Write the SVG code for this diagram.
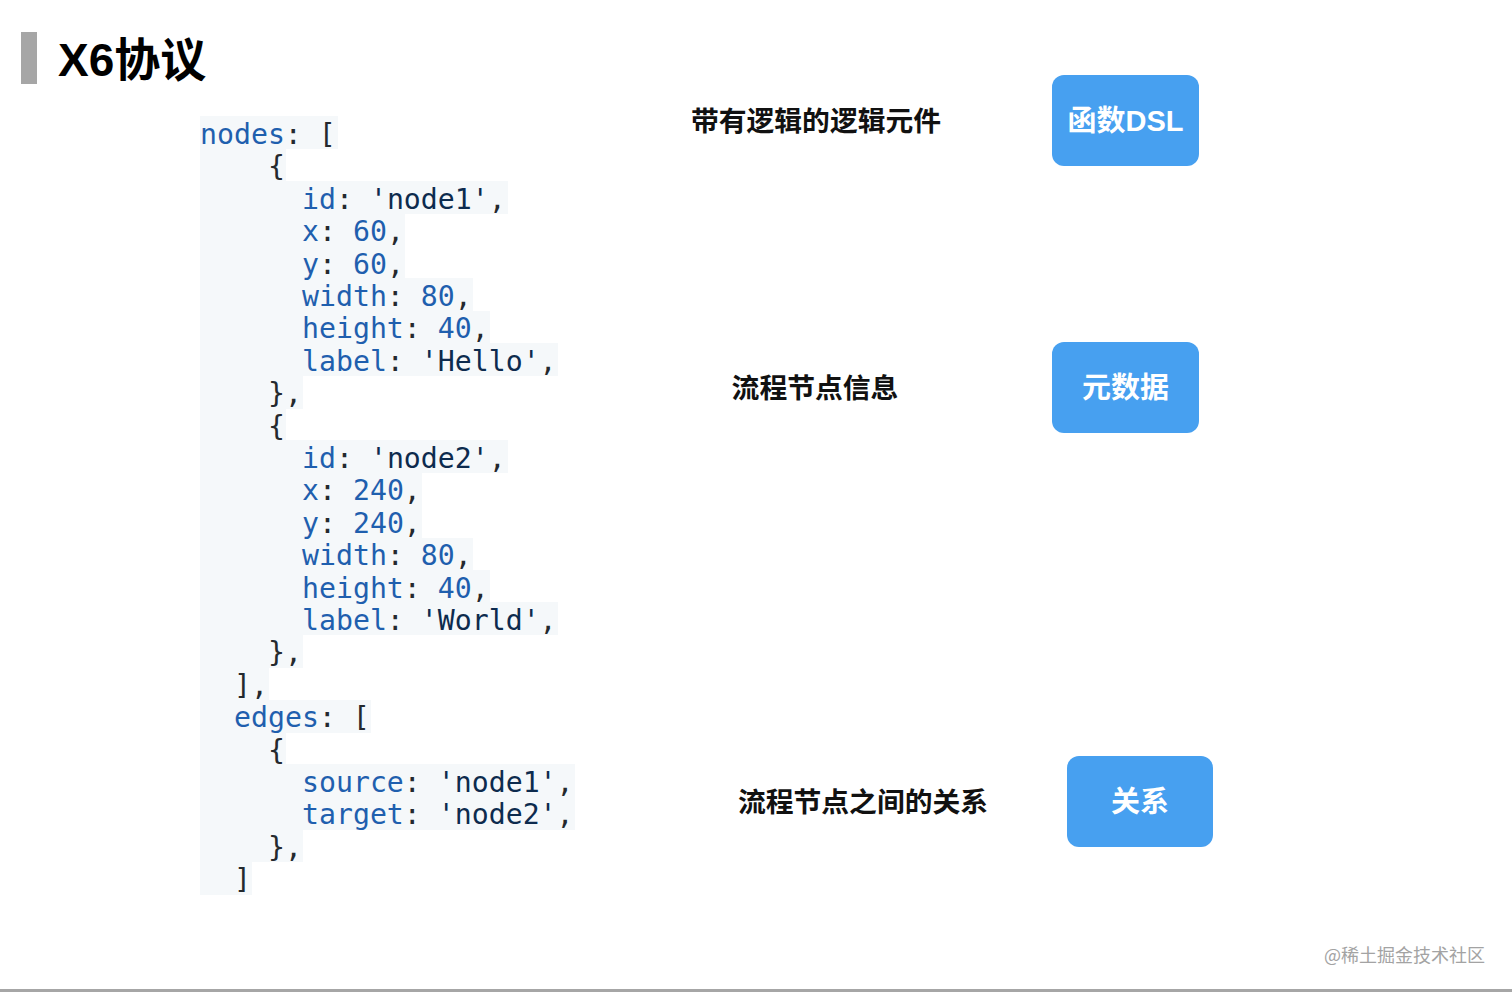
<svg xmlns="http://www.w3.org/2000/svg" width="1512" height="992" viewBox="0 0 1512 992">
<style>
.code{font-family:"DejaVu Sans Mono","Liberation Mono",monospace;font-size:28.2px;fill:#24292e}
.k{fill:#1f5fae}.s{fill:#0d2b4e}.n{fill:#1f5fae}
.bg{fill:#f5f8fa}
.lbl{font-family:"Noto Sans CJK SC","Liberation Sans",sans-serif;font-weight:bold;font-size:27.8px;fill:#111;text-anchor:middle}
.btn{fill:#47a0f0}
.bt{font-family:"Liberation Sans","Noto Sans CJK SC",sans-serif;font-weight:bold;font-size:29px;fill:#fff;text-anchor:middle}
</style>
<rect width="1512" height="992" fill="#fff"/>
<g id="title">
<rect x="21" y="32" width="16" height="52" fill="#a6a6a6"/>
<text x="58" y="76" font-family="Liberation Sans,Noto Sans CJK SC,sans-serif" font-weight="bold" font-size="46" fill="#000">X6协议</text>
</g>
<g id="code">
<g class="bg-rects">
<rect class="bg" x="200" y="116" width="138" height="33"/>
<rect class="bg" x="200" y="149" width="86" height="33"/>
<rect class="bg" x="200" y="181" width="308" height="33"/>
<rect class="bg" x="200" y="214" width="205" height="33"/>
<rect class="bg" x="200" y="246" width="205" height="33"/>
<rect class="bg" x="200" y="278" width="273" height="33"/>
<rect class="bg" x="200" y="311" width="290" height="33"/>
<rect class="bg" x="200" y="343" width="358" height="33"/>
<rect class="bg" x="200" y="376" width="103" height="33"/>
<rect class="bg" x="200" y="408" width="86" height="33"/>
<rect class="bg" x="200" y="440" width="308" height="33"/>
<rect class="bg" x="200" y="473" width="222" height="33"/>
<rect class="bg" x="200" y="505" width="222" height="33"/>
<rect class="bg" x="200" y="538" width="273" height="33"/>
<rect class="bg" x="200" y="570" width="290" height="33"/>
<rect class="bg" x="200" y="602" width="358" height="33"/>
<rect class="bg" x="200" y="635" width="103" height="33"/>
<rect class="bg" x="200" y="667" width="69" height="33"/>
<rect class="bg" x="200" y="700" width="171" height="33"/>
<rect class="bg" x="200" y="732" width="86" height="33"/>
<rect class="bg" x="200" y="764" width="375" height="33"/>
<rect class="bg" x="200" y="797" width="375" height="33"/>
<rect class="bg" x="200" y="829" width="103" height="33"/>
<rect class="bg" x="200" y="862" width="52" height="33"/>
</g>
<text class="code" xml:space="preserve">
<tspan x="200" y="144"><tspan class="k">nodes</tspan>: [</tspan>
<tspan x="268" y="176.4">{</tspan>
<tspan x="302" y="208.8"><tspan class="k">id</tspan>: <tspan class="s">'node1'</tspan>,</tspan>
<tspan x="302" y="241.2"><tspan class="k">x</tspan>: <tspan class="n">60</tspan>,</tspan>
<tspan x="302" y="273.6"><tspan class="k">y</tspan>: <tspan class="n">60</tspan>,</tspan>
<tspan x="302" y="306"><tspan class="k">width</tspan>: <tspan class="n">80</tspan>,</tspan>
<tspan x="302" y="338.4"><tspan class="k">height</tspan>: <tspan class="n">40</tspan>,</tspan>
<tspan x="302" y="370.8"><tspan class="k">label</tspan>: <tspan class="s">'Hello'</tspan>,</tspan>
<tspan x="268" y="403.2">},</tspan>
<tspan x="268" y="435.6">{</tspan>
<tspan x="302" y="468"><tspan class="k">id</tspan>: <tspan class="s">'node2'</tspan>,</tspan>
<tspan x="302" y="500.4"><tspan class="k">x</tspan>: <tspan class="n">240</tspan>,</tspan>
<tspan x="302" y="532.8"><tspan class="k">y</tspan>: <tspan class="n">240</tspan>,</tspan>
<tspan x="302" y="565.2"><tspan class="k">width</tspan>: <tspan class="n">80</tspan>,</tspan>
<tspan x="302" y="597.6"><tspan class="k">height</tspan>: <tspan class="n">40</tspan>,</tspan>
<tspan x="302" y="630"><tspan class="k">label</tspan>: <tspan class="s">'World'</tspan>,</tspan>
<tspan x="268" y="662.4">},</tspan>
<tspan x="234" y="694.8">],</tspan>
<tspan x="234" y="727.2"><tspan class="k">edges</tspan>: [</tspan>
<tspan x="268" y="759.6">{</tspan>
<tspan x="302" y="792"><tspan class="k">source</tspan>: <tspan class="s">'node1'</tspan>,</tspan>
<tspan x="302" y="824.4"><tspan class="k">target</tspan>: <tspan class="s">'node2'</tspan>,</tspan>
<tspan x="268" y="856.8">},</tspan>
<tspan x="234" y="889.2">]</tspan>
</text>
</g>
<g id="label1"><text class="lbl" x="816" y="131">带有逻辑的逻辑元件</text></g>
<g id="label2"><text class="lbl" x="815" y="398">流程节点信息</text></g>
<g id="label3"><text class="lbl" x="863" y="812">流程节点之间的关系</text></g>
<g id="btn-dsl"><rect class="btn" x="1052" y="75" width="147" height="91" rx="12"/><text class="bt" x="1125.5" y="131">函数DSL</text></g>
<g id="btn-meta"><rect class="btn" x="1052" y="342" width="147" height="91" rx="12"/><text class="bt" x="1125.5" y="398">元数据</text></g>
<g id="btn-rel"><rect class="btn" x="1067" y="756" width="146" height="91" rx="12"/><text class="bt" x="1140" y="812">关系</text></g>
<g id="connectors"/>
<text x="1485" y="962" text-anchor="end" font-family="Noto Sans CJK SC,sans-serif" font-size="18" fill="#a3a3a3">@稀土掘金技术社区</text>
<rect x="0" y="989" width="1512" height="3" fill="#a6a6a6"/>
</svg>
